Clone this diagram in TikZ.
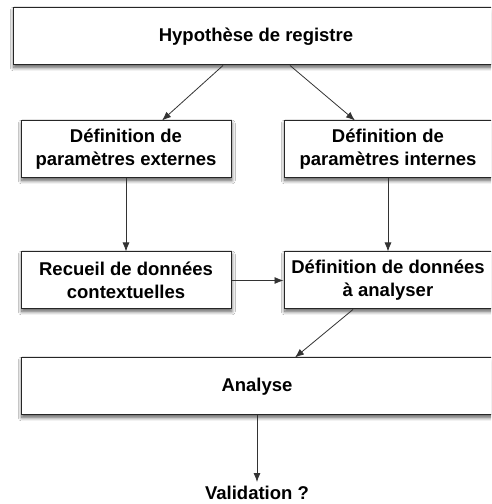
\documentclass[tikz,border=0pt]{standalone}
\usepackage{fontspec}
\setmainfont{Liberation Sans}
\usetikzlibrary{arrows.meta,shadows.blur}
\tikzset{
  box/.style={draw=black!85, line width=1pt, fill=white, rectangle, inner sep=0pt,
    minimum height=57pt, align=center, font=\bfseries\fontsize{18.5}{23}\selectfont,
    blur shadow={shadow xshift=0.8pt, shadow yshift=-2.5pt, shadow blur steps=8, shadow blur radius=3.5pt, shadow opacity=65}},
  arr/.style={draw=black!80, line width=0.8pt, -{Latex[length=9pt,width=7pt]}},
  lbl/.style={font=\bfseries\fontsize{18.5}{23}\selectfont, inner sep=0pt}
}
\begin{document}
\begin{tikzpicture}[x=1pt,y=1pt]
\useasboundingbox (0,0) rectangle (491,504);
\clip (0,0) rectangle (491,504);
\fill[white] (0,0) rectangle (491,504);
\node[box, minimum width=486pt] (top) at (256,467.5) {Hypothèse de registre};
\node[box, minimum width=210pt] (pe) at (126,354.5) {Définition de\\paramètres externes};
\node[box, minimum width=208pt] (pi) at (388,354.5) {Définition de\\paramètres internes};
\node[box, minimum width=210pt] (rc) at (126,223.5) {Recueil de données\\contextuelles};
\node[box, minimum width=208pt] (da) at (388,223.5) {Définition de données\\à analyser};
\node[box, minimum width=472pt] (an) at (257,117.5) {Analyse};
\node[lbl] (va) at (257,11) {Validation ?};
\draw[arr] ([xshift=-33pt]top.south) -- ([xshift=36pt]pe.north);
\draw[arr] ([xshift=34pt]top.south) -- ([xshift=-33pt]pi.north);
\draw[arr] (pe.south) -- (rc.north);
\draw[arr] (pi.south) -- (da.north);
\draw[arr] (rc.east) -- (da.west);
\draw[arr] ([xshift=-35pt]da.south) -- ([xshift=38pt]an.north);
\draw[arr] (an.south) -- ([yshift=4pt]va.north);
\end{tikzpicture}
\end{document}
